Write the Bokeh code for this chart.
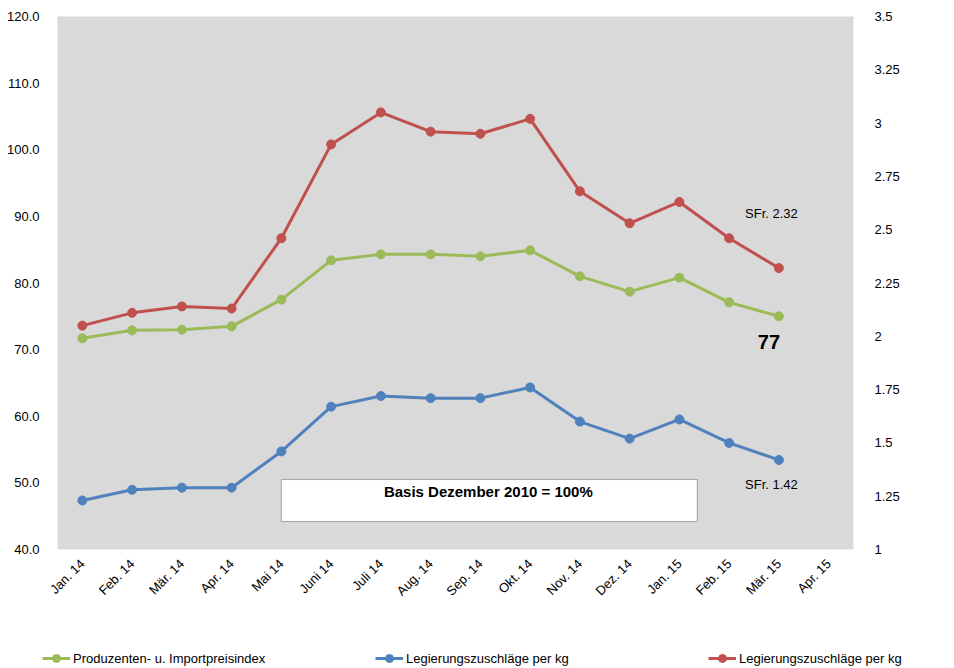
from math import pi
from bokeh.plotting import figure
from bokeh.models import (Range1d, LinearAxis, FixedTicker, NumeralTickFormatter,
                          Legend, LegendItem, Label, BoxAnnotation, ColumnDataSource)
from bokeh.embed import file_html
from bokeh.resources import INLINE

months = ["Jan. 14", "Feb. 14", "Mär. 14", "Apr. 14", "Mai 14", "Juni 14", "Juli 14",
          "Aug. 14", "Sep. 14", "Okt. 14", "Nov. 14", "Dez. 14", "Jan. 15", "Feb. 15",
          "Mär. 15", "Apr. 15"]
data_months = months[:15]

ppi = [71.7, 72.9, 73.0, 73.5, 77.5, 83.4, 84.3, 84.3, 84.0, 84.9, 81.0, 78.7, 80.8, 77.1, 75.0]
zuschlag_blue = [1.23, 1.28, 1.29, 1.29, 1.46, 1.67, 1.72, 1.71, 1.71, 1.76, 1.60, 1.52, 1.61, 1.50, 1.42]
zuschlag_red = [2.05, 2.11, 2.14, 2.13, 2.46, 2.90, 3.05, 2.96, 2.95, 3.02, 2.68, 2.53, 2.63, 2.46, 2.32]

left_ticks = [40, 50, 60, 70, 80, 90, 100, 110, 120]
right_ticks = [1, 1.25, 1.5, 1.75, 2, 2.25, 2.5, 2.75, 3, 3.25, 3.5]

series_labels = ["Produzenten- u. Importpreisindex", "Legierungszuschläge per kg",
                 "Legierungszuschläge per kg"]

GREEN = "#9bbb59"
BLUE = "#4f81bd"
RED = "#c0504d"
FONT = "Liberation Sans"

p = figure(x_range=months, y_range=Range1d(40, 120), width=954, height=640,
           output_backend="svg", toolbar_location=None,
           min_border_left=57, min_border_right=101, min_border_top=16, min_border_bottom=91,
           background_fill_color="#d9d9d9", border_fill_color="white", outline_line_color=None)
p.x_range.range_padding = 0
p.xgrid.grid_line_color = None
p.ygrid.grid_line_color = None

# left axis
ya = p.yaxis[0]
ya.ticker = FixedTicker(ticks=left_ticks)
ya.formatter = NumeralTickFormatter(format="0.0")
ya.axis_line_color = None
ya.major_tick_line_color = None
ya.minor_tick_line_color = None
ya.major_label_standoff = 12
ya.major_label_text_font = FONT
ya.major_label_text_font_size = "13px"
ya.major_label_text_color = "black"

# right axis
p.extra_y_ranges = {"r": Range1d(1, 3.5)}
ra = LinearAxis(y_range_name="r", ticker=FixedTicker(ticks=right_ticks),
                formatter=NumeralTickFormatter(format="0.[00]"))
ra.axis_line_color = None
ra.major_tick_line_color = None
ra.minor_tick_line_color = None
ra.major_label_standoff = 15
ra.major_label_text_font = FONT
ra.major_label_text_font_size = "13px"
ra.major_label_text_color = "black"
p.add_layout(ra, "right")

# x axis
xa = p.xaxis[0]
xa.major_label_orientation = pi / 4
xa.axis_line_color = None
xa.major_tick_line_color = None
xa.major_label_text_font = FONT
xa.major_label_text_font_size = "13px"
xa.major_label_text_color = "black"
xa.major_label_standoff = 6

src = ColumnDataSource(dict(m=data_months, g=ppi, b=zuschlag_blue, r=zuschlag_red))

p.line("m", "g", source=src, line_color=GREEN, line_width=3)
p.scatter("m", "g", source=src, size=9, fill_color=GREEN, line_color=GREEN)
p.line("m", "b", source=src, line_color=BLUE, line_width=3, y_range_name="r")
p.scatter("m", "b", source=src, size=9, fill_color=BLUE, line_color=BLUE, y_range_name="r")
p.line("m", "r", source=src, line_color=RED, line_width=3, y_range_name="r")
p.scatter("m", "r", source=src, size=9, fill_color=RED, line_color=RED, y_range_name="r")

# annotations
box = BoxAnnotation(left=4.5, right=12.86, bottom=44.2, top=50.5, fill_color="white",
                    fill_alpha=1, line_color="black", line_width=1)
p.add_layout(box)
p.add_layout(Label(x=8.66, y=48.7, text="Basis Dezember 2010 = 100%", text_align="center",
                   text_baseline="middle", text_font=FONT, text_font_size="15px",
                   text_font_style="bold", text_color="black"))
p.add_layout(Label(x=14.35, y=90.4, text="SFr. 2.32", text_align="center",
                   text_baseline="middle", text_font=FONT, text_font_size="13px",
                   text_color="black"))
p.add_layout(Label(x=14.3, y=71.1, text="77", text_align="center",
                   text_baseline="middle", text_font=FONT, text_font_size="20px",
                   text_font_style="bold", text_color="black"))
p.add_layout(Label(x=14.35, y=49.8, text="SFr. 1.42", text_align="center",
                   text_baseline="middle", text_font=FONT, text_font_size="13px",
                   text_color="black"))

# legend strip below the chart (separate root so its frame spans the full width);
# the proxy renderers use the same data but lie outside this strip's y range
pl = figure(width=954, height=28, x_range=months, y_range=Range1d(0, 1), output_backend="svg",
            toolbar_location=None, min_border=0, min_border_left=0, min_border_right=0,
            min_border_top=0, min_border_bottom=0, x_axis_location=None, y_axis_location=None,
            outline_line_color=None, border_fill_color="white", background_fill_color="white")
pl.grid.visible = False
items = []
for lab, col, key in zip(series_labels, [GREEN, BLUE, RED], ["g", "b", "r"]):
    lr = pl.line("m", key, source=src, line_color=col, line_width=3)
    sr = pl.scatter("m", key, source=src, size=9, fill_color=col, line_color=col)
    items.append(LegendItem(label=lab, renderers=[lr, sr]))

legend = Legend(items=items, orientation="horizontal", location=(42, 0),
                glyph_width=28, glyph_height=20, label_standoff=3, label_width=260,
                spacing=42, padding=0, margin=0, border_line_color=None,
                background_fill_alpha=0, label_text_font=FONT, label_text_font_size="13px",
                label_text_color="black")
pl.add_layout(legend)

open("out.html", "w").write(file_html([p, pl], INLINE))
